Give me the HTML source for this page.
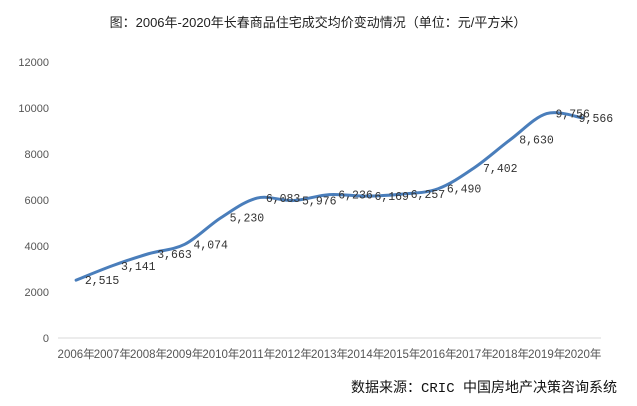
<!DOCTYPE html>
<html><head><meta charset="utf-8"><style>
html,body{margin:0;padding:0;background:#fff;}
svg{display:block}
</style></head><body>
<svg width="637" height="406" xmlns="http://www.w3.org/2000/svg">
<rect width="637" height="406" fill="#fff"/>
<text x="318" y="27" text-anchor="middle" font-family="Liberation Sans, Noto Sans CJK SC, sans-serif" font-size="13" fill="#222">图：2006年-2020年长春商品住宅成交均价变动情况（单位：元/平方米）</text>
<g font-family="Liberation Sans, sans-serif" font-size="11" fill="#555" text-anchor="end">
<text x="49" y="342">0</text>
<text x="49" y="296">2000</text>
<text x="49" y="250">4000</text>
<text x="49" y="204">6000</text>
<text x="49" y="158">8000</text>
<text x="49" y="112">10000</text>
<text x="49" y="66">12000</text>
</g>
<line x1="58" y1="338" x2="601" y2="338" stroke="#d9d9d9" stroke-width="1"/>
<g font-family="Liberation Sans, Noto Sans CJK SC, sans-serif" font-size="11.5" fill="#555" text-anchor="middle">
<text x="76.1" y="358">2006年</text><text x="112.3" y="358">2007年</text><text x="148.5" y="358">2008年</text>
<text x="184.7" y="358">2009年</text><text x="220.9" y="358">2010年</text><text x="257.1" y="358">2011年</text>
<text x="293.3" y="358">2012年</text><text x="329.5" y="358">2013年</text><text x="365.7" y="358">2014年</text>
<text x="401.9" y="358">2015年</text><text x="438.1" y="358">2016年</text><text x="474.3" y="358">2017年</text>
<text x="510.5" y="358">2018年</text><text x="546.7" y="358">2019年</text><text x="582.9" y="358">2020年</text>
</g>
<path fill="none" stroke="#4a7ebb" stroke-width="3" stroke-linecap="round" d="M76.1,280.16 C82.13,277.76 100.23,270.16 112.3,265.76 C124.37,261.36 136.43,257.33 148.5,253.75 C160.57,250.17 172.63,250.31 184.7,244.30 C196.77,238.29 208.83,225.41 220.9,217.71 C232.97,210.01 245.03,200.95 257.1,198.09 C269.17,195.23 281.23,201.14 293.3,200.55 C305.37,199.96 317.43,195.31 329.5,194.57 C341.57,193.83 353.63,196.19 365.7,196.11 C377.77,196.03 389.83,195.32 401.9,194.09 C413.97,192.86 426.03,193.12 438.1,188.73 C450.17,184.34 462.23,175.95 474.3,167.75 C486.37,159.55 498.43,148.53 510.5,139.51 C522.57,130.49 534.63,117.20 546.7,113.61 C558.77,110.02 576.87,117.25 582.9,117.98"/>
<g font-family="Liberation Mono, monospace" font-size="11.5" fill="#333" text-anchor="middle">
<text x="102.1" y="284.2">2,515</text><text x="138.3" y="269.8">3,141</text><text x="174.5" y="257.8">3,663</text>
<text x="210.7" y="248.3">4,074</text><text x="246.9" y="221.7">5,230</text><text x="283.1" y="202.1">6,083</text>
<text x="319.3" y="204.6">5,976</text><text x="355.5" y="198.6">6,236</text><text x="391.7" y="200.1">6,169</text>
<text x="427.9" y="198.1">6,257</text><text x="464.1" y="192.7">6,490</text><text x="500.3" y="171.8">7,402</text>
<text x="536.5" y="143.5">8,630</text><text x="572.7" y="117.6">9,756</text><text x="595.9" y="122">9,566</text>
</g>
<text x="617" y="392" text-anchor="end" font-family="Liberation Mono, Noto Sans CJK SC, sans-serif" font-size="14" fill="#111">数据来源：CRIC 中国房地产决策咨询系统</text>
</svg>
</body></html>
